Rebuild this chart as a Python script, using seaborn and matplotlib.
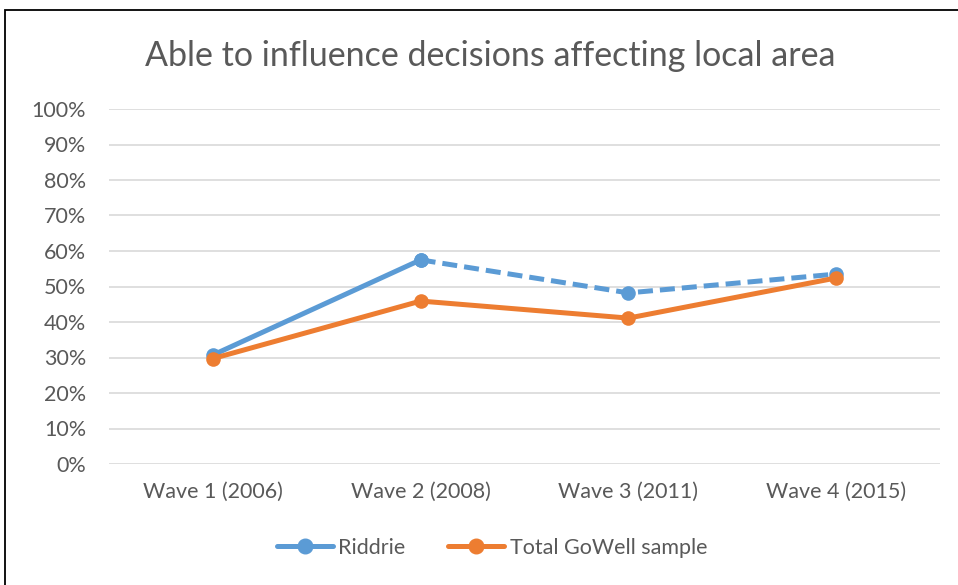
import numpy as np
import pandas as pd
import matplotlib
matplotlib.use('Agg')
import matplotlib.pyplot as plt
import seaborn as sns
from matplotlib.patches import Rectangle
from matplotlib.lines import Line2D

waves = ['Wave 1 (2006)', 'Wave 2 (2008)', 'Wave 3 (2011)', 'Wave 4 (2015)']
riddrie = [30.7, 57.5, 48.2, 53.5]
total_gowell = [29.7, 45.9, 41.1, 52.4]

BLUE = '#5B9BD5'
ORANGE = '#ED7D31'
GREY = '#595959'
LW = 3.6
MS = 10.5

sns.set_theme(style='white')
plt.rcParams['font.family'] = ['Lato', 'DejaVu Sans']

fig = plt.figure(figsize=(9.58, 5.85), dpi=100)
ax = fig.add_axes([109 / 958, 1 - 464 / 585, (940 - 109) / 958, (464 - 109) / 585])

pos = np.arange(len(waves))
df_total = pd.DataFrame({'x': pos, 'y': total_gowell})
df_rid_solid = pd.DataFrame({'x': pos[:2], 'y': riddrie[:2]})
df_rid_dash = pd.DataFrame({'x': pos[1:], 'y': riddrie[1:]})

sns.lineplot(data=df_total, x='x', y='y', ax=ax, color=ORANGE, lw=LW,
             marker='o', markersize=MS, markeredgewidth=0, zorder=3)
sns.lineplot(data=df_rid_dash, x='x', y='y', ax=ax, color=BLUE, lw=LW,
             marker='o', markersize=MS, markeredgewidth=0, zorder=2,
             linestyle=(0, (3, 1.4)))
sns.lineplot(data=df_rid_solid, x='x', y='y', ax=ax, color=BLUE, lw=LW,
             marker='o', markersize=MS, markeredgewidth=0, zorder=2)

ax.set_xlim(-0.5, len(waves) - 0.5)
ax.set_ylim(0, 100)
ax.set_yticks(np.arange(0, 101, 10))
ax.set_yticklabels([f'{v}%' for v in range(0, 101, 10)])
ax.set_xticks(pos)
ax.set_xticklabels(waves)
ax.set_xlabel('')
ax.set_ylabel('')
ax.tick_params(axis='both', colors=GREY, labelsize=15.5, length=0)
ax.tick_params(axis='y', pad=16.5)
ax.tick_params(axis='x', pad=13)
ax.grid(axis='y', color='#D9D9D9', lw=1.2)
ax.set_axisbelow(True)
for s in ax.spines.values():
    s.set_visible(False)

fig.text(490 / 958, 1 - 56 / 585, 'Able to influence decisions affecting local area',
         ha='center', va='center', fontsize=24.5, color=GREY)

handles = [Line2D([], [], color=BLUE, lw=LW, marker='o', markersize=MS),
           Line2D([], [], color=ORANGE, lw=LW, marker='o', markersize=MS)]
fig.legend(handles, ['Riddrie', 'Total GoWell sample'], loc='center',
           bbox_to_anchor=(492 / 958, 1 - 548 / 585), ncol=2, frameon=False,
           fontsize=15.5, labelcolor=GREY, handlelength=2.6, handletextpad=0.25,
           columnspacing=2.0)

fig.patches.append(Rectangle((5 / 958, -0.1), 1.2, 1.1 - 10 / 585,
                             transform=fig.transFigure, fill=False,
                             edgecolor='black', lw=1.3))

fig.savefig('out.png', dpi=100)
